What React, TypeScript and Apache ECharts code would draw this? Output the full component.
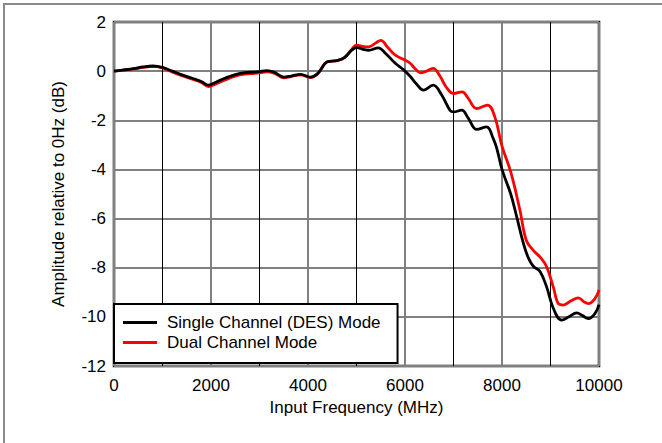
import React, { useEffect, useRef } from "react";
import * as echarts from "echarts";

const singleFreq = [0, 200, 400, 600, 800, 1000, 1200, 1400, 1600, 1800, 1950, 2100, 2300, 2500, 2700, 2900, 3000, 3150, 3300, 3500, 3650, 3850, 4050, 4200, 4400, 4600, 4750, 4900, 5000, 5150, 5250, 5450, 5600, 5800, 5966, 6100, 6250, 6380, 6580, 6750, 6930, 7000, 7170, 7300, 7480, 7680, 7820, 7900, 8000, 8180, 8300, 8440, 8543, 8650, 8784, 8920, 9060, 9230, 9380, 9540, 9660, 9780, 9918, 10000];
const singleAmp = [0, 0.05, 0.1, 0.17, 0.21, 0.15, 0.0, -0.15, -0.28, -0.42, -0.57, -0.45, -0.28, -0.14, -0.06, -0.04, -0.02, 0.02, -0.04, -0.24, -0.2, -0.13, -0.24, -0.1, 0.38, 0.43, 0.55, 0.85, 0.96, 0.88, 0.85, 0.95, 0.72, 0.32, 0.06, -0.2, -0.55, -0.77, -0.57, -0.95, -1.6, -1.66, -1.59, -1.9, -2.37, -2.27, -2.75, -3.2, -4.0, -5.0, -5.9, -7.0, -7.6, -7.95, -8.15, -8.78, -9.66, -10.13, -10.0, -9.84, -9.95, -10.07, -9.86, -9.5];

const dualFreq = [0, 200, 400, 600, 800, 1000, 1200, 1400, 1600, 1800, 1950, 2100, 2300, 2500, 2700, 2900, 3000, 3150, 3300, 3500, 3650, 3850, 4050, 4200, 4400, 4600, 4750, 4900, 5000, 5150, 5250, 5400, 5500, 5650, 5800, 6000, 6100, 6200, 6320, 6420, 6580, 6720, 6850, 7000, 7180, 7300, 7480, 7700, 7850, 8000, 8180, 8370, 8500, 8650, 8800, 8920, 9060, 9160, 9265, 9420, 9574, 9700, 9780, 9918, 10000];
const dualAmp = [0, 0.04, 0.09, 0.15, 0.19, 0.13, -0.03, -0.18, -0.32, -0.46, -0.63, -0.52, -0.35, -0.2, -0.12, -0.09, -0.07, -0.03, -0.08, -0.27, -0.22, -0.15, -0.26, -0.1, 0.38, 0.43, 0.55, 0.88, 1.06, 1.0, 0.99, 1.15, 1.25, 0.95, 0.65, 0.45, 0.33, 0.12, -0.07, -0.02, 0.11, -0.2, -0.65, -0.91, -0.84, -1.1, -1.52, -1.38, -1.85, -3.05, -4.1, -5.66, -6.88, -7.3, -7.6, -7.96, -8.8, -9.46, -9.52, -9.35, -9.23, -9.4, -9.46, -9.25, -8.9];

const seriesNames = ["Single Channel (DES) Mode", "Dual Channel Mode"];
const xTitle = "Input Frequency (MHz)";
const yTitle = "Amplitude relative to 0Hz (dB)";

const FONT = "'Liberation Sans', Arial, sans-serif";

export default function App() {
  const ref = useRef<HTMLDivElement>(null);
  useEffect(() => {
    document.body.style.margin = "0";
    const chart = echarts.init(ref.current!, null, { renderer: "svg" });
    const single = singleFreq.map((f, i) => [f, singleAmp[i]]);
    const dual = dualFreq.map((f, i) => [f, dualAmp[i]]);
    chart.setOption({
      animation: false,
      backgroundColor: "#fff",
      textStyle: { fontFamily: FONT },
      grid: {
        left: 114,
        top: 22,
        right: 63,
        bottom: 77,
        show: true,
        borderColor: "#000",
        borderWidth: 2.5,
        backgroundColor: "transparent",
      },
      graphic: [
        {
          type: "rect",
          shape: { x: 4, y: 4, width: 720, height: 520 },
          style: { fill: "none", stroke: "#8a8a8a", lineWidth: 2 },
          silent: true,
          z: -10,
        },
      ],
      legend: {
        orient: "vertical",
        left: 114,
        top: 304,
        padding: [10, 17, 12, 9],
        itemGap: 3,
        itemWidth: 34,
        itemHeight: 3,
        icon: "rect",
        backgroundColor: "#fff",
        borderColor: "#000",
        borderWidth: 2,
        textStyle: { fontSize: 17, color: "#000", fontFamily: FONT, padding: [0, 0, 0, 5] },
        data: seriesNames,
      },
      xAxis: [
        {
          type: "value",
          min: 0,
          max: 10000,
          interval: 2000,
          name: xTitle,
          nameLocation: "middle",
          nameGap: 26,
          nameTextStyle: { fontSize: 17, color: "#000", fontFamily: FONT },
          axisLine: { show: false },
          axisTick: { show: false },
          axisLabel: {
            fontSize: 17,
            color: "#000",
            margin: 11,
            fontFamily: FONT,
            formatter: (v: number) => String(v),
          },
          splitLine: { show: true, lineStyle: { color: "#808080", width: 2 } },
        },
        {
          type: "value",
          min: 0,
          max: 10000,
          interval: 1000,
          position: "bottom",
          axisLine: { show: false },
          axisTick: { show: false },
          axisLabel: { show: false },
          splitLine: { show: true, lineStyle: { color: ["transparent", "#000"], width: 1 } },
        },
      ],
      yAxis: {
        type: "value",
        min: -12,
        max: 2,
        interval: 2,
        name: yTitle,
        nameLocation: "middle",
        nameGap: 47,
        nameTextStyle: { fontSize: 17, color: "#000", fontFamily: FONT },
        axisLine: { show: false },
        axisTick: { show: false },
        axisLabel: { fontSize: 17, color: "#000", margin: 8, fontFamily: FONT },
        splitLine: { show: true, lineStyle: { color: "#808080", width: 2 } },
      },
      series: [
        {
          name: seriesNames[0],
          type: "line",
          data: single,
          smooth: 0.4,
          showSymbol: false,
          color: "#000",
          lineStyle: { color: "#000", width: 2.8 },
          z: 3,
        },
        {
          name: seriesNames[1],
          type: "line",
          data: dual,
          smooth: 0.4,
          showSymbol: false,
          color: "#ff0000",
          lineStyle: { color: "#ff0000", width: 2.8 },
          z: 2,
        },
      ],
    });
    return () => chart.dispose();
  }, []);
  return (
    <div
      ref={ref}
      style={{ position: "fixed", left: 0, top: 0, width: 662, height: 443 }}
    />
  );
}
